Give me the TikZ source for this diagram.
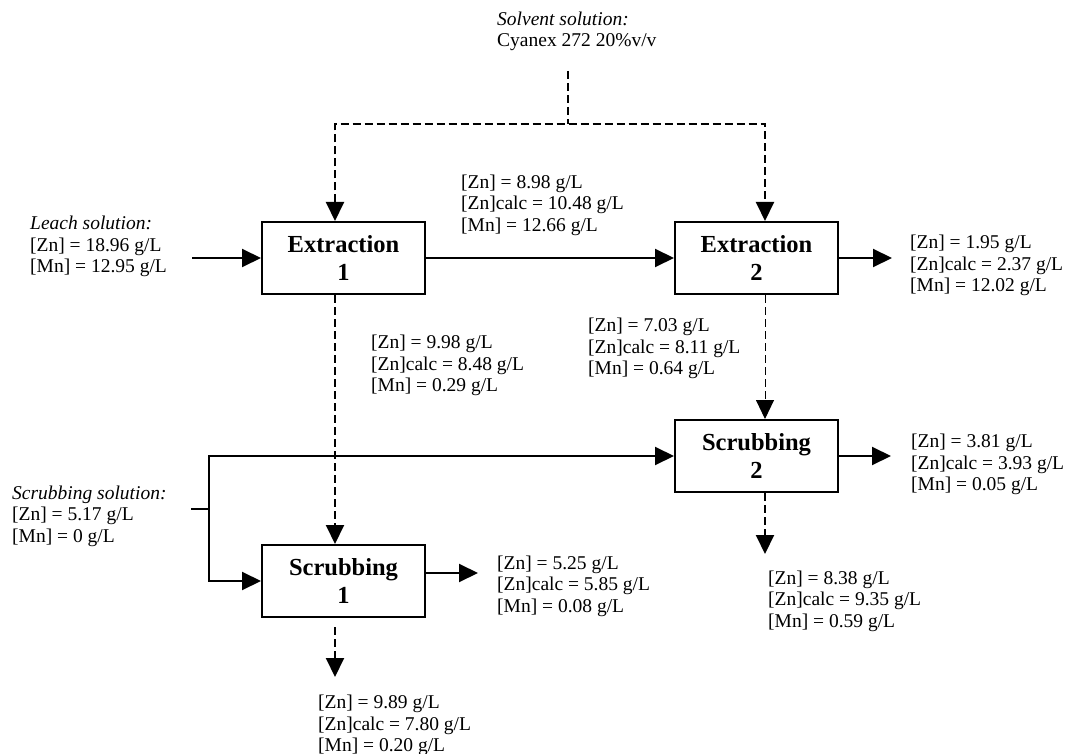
\documentclass[tikz,border=0pt]{standalone}
\usepackage{fontspec}
\setmainfont{Liberation Serif}
\usetikzlibrary{arrows.meta}
\begin{document}
\begin{tikzpicture}[x=1pt,y=-1pt,
  txt/.style={font=\fontsize{19.5}{21.5}\selectfont, align=left, anchor=west, inner sep=0pt},
  stage/.style={draw, line width=2pt, minimum width=163pt, minimum height=72pt, inner sep=0pt, align=center, font=\fontsize{24.5}{28}\selectfont\bfseries},
  flow/.style={line width=2pt},
  dsh/.style={line width=2pt, dash pattern=on 8pt off 4pt},
  thindsh/.style={line width=1pt, dash pattern=on 8pt off 4pt},
  tip/.style={-{Triangle[length=19pt,width=18pt]}},
  tips/.style={{Triangle[length=19pt,width=18pt]}-{Triangle[length=19pt,width=18pt]}}]
\useasboundingbox[fill=white] (0,0) rectangle (1066,754);

% stages
\node[stage] (ext1) at (343.5,258) {Extraction\\1};
\node[stage] (ext2) at (756.5,258) {Extraction\\2};
\node[stage] (scr1) at (343.5,581) {Scrubbing\\1};
\node[stage] (scr2) at (756.5,456) {Scrubbing\\2};

% texts
\node[txt] (solv) at (497,31.5) {\textit{Solvent solution:}\\Cyanex 272 20\%v/v};
\node[txt] (leach) at (30,246.5) {\textit{Leach solution:}\\{[Zn]} = 18.96 g/L\\{[Mn]} = 12.95 g/L};
\node[txt] (t898) at (461,205) {{[Zn]} = 8.98 g/L\\{[Zn]}calc = 10.48 g/L\\{[Mn]} = 12.66 g/L};
\node[txt] (t195) at (910,265.5) {{[Zn]} = 1.95 g/L\\{[Zn]}calc = 2.37 g/L\\{[Mn]} = 12.02 g/L};
\node[txt] (t998) at (371,365.5) {{[Zn]} = 9.98 g/L\\{[Zn]}calc = 8.48 g/L\\{[Mn]} = 0.29 g/L};
\node[txt] (t703) at (588,348.5) {{[Zn]} = 7.03 g/L\\{[Zn]}calc = 8.11 g/L\\{[Mn]} = 0.64 g/L};
\node[txt] (scrsol) at (12,516) {\textit{Scrubbing solution:}\\{[Zn]} = 5.17 g/L\\{[Mn]} = 0 g/L};
\node[txt] (t381) at (911,464.5) {{[Zn]} = 3.81 g/L\\{[Zn]}calc = 3.93 g/L\\{[Mn]} = 0.05 g/L};
\node[txt] (t525) at (497,586) {{[Zn]} = 5.25 g/L\\{[Zn]}calc = 5.85 g/L\\{[Mn]} = 0.08 g/L};
\node[txt] (t838) at (768,601) {{[Zn]} = 8.38 g/L\\{[Zn]}calc = 9.35 g/L\\{[Mn]} = 0.59 g/L};
\node[txt] (t989) at (318,725.5) {{[Zn]} = 9.89 g/L\\{[Zn]}calc = 7.80 g/L\\{[Mn]} = 0.20 g/L};

% coordinates
\coordinate (sv) at (568,71);
\coordinate (svj) at (568,124);
\coordinate (l1) at (335,124);
\coordinate (r1) at (765,124);
\coordinate (leachin) at (192,258);
\coordinate (out2) at (892,258);
\coordinate (stub) at (191,509);
\coordinate (jm) at (209,509);
\coordinate (jt) at (209,456);
\coordinate (jb) at (209,581);
\coordinate (out1) at (478,573);
\coordinate (outs2) at (891,456);
\coordinate (b1s) at (335,627);
\coordinate (b1e) at (335,677);
\coordinate (b2e) at (765,554);

% solvent feed
\draw[dsh] (sv) -- (svj);
\draw[dsh,tips] (l1 |- ext1.north) -- (l1) -- (r1) -- (r1 |- ext2.north);

% aqueous flows
\draw[flow,tip] (leachin) -- (ext1.west);
\draw[flow,tip] (ext1.east) -- (ext2.west);
\draw[flow,tip] (ext2.east) -- (out2);

% loaded organic
\draw[dsh,tip] (l1 |- ext1.south) -- (l1 |- scr1.north);
\draw[thindsh,tip] (r1 |- ext2.south) -- (r1 |- scr2.north);

% scrubbing solution
\draw[flow] (stub) -- (jm);
\draw[flow,tips] (scr2.west) -- (jt) -- (jb) -- (scr1.west);

% scrubbing outputs
\draw[flow,tip] (scr1.east |- out1) -- (out1);
\draw[flow,tip] (scr2.east) -- (outs2);
\draw[dsh,tip] (b1s) -- (b1e);
\draw[dsh,tip] (r1 |- scr2.south) -- (b2e);
\end{tikzpicture}
\end{document}
